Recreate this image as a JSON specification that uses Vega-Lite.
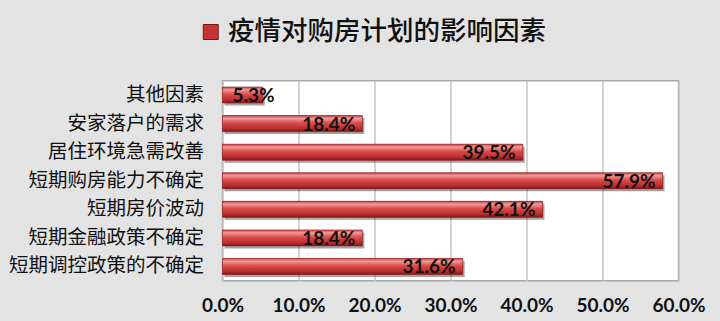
{
  "$schema": "https://vega.github.io/schema/vega-lite/v6.json",
  "width": 456,
  "height": 200,
  "autosize": {"type": "none"},
  "padding": {"left": 222.5, "top": 80.75, "right": 41.5, "bottom": 40.25},
  "background": "#e3e3e3",
  "data": {
    "values": [
      {"factor": "其他因素", "share": 0.053, "series": "疫情对购房计划的影响因素"},
      {"factor": "安家落户的需求", "share": 0.184, "series": "疫情对购房计划的影响因素"},
      {"factor": "居住环境急需改善", "share": 0.395, "series": "疫情对购房计划的影响因素"},
      {"factor": "短期购房能力不确定", "share": 0.579, "series": "疫情对购房计划的影响因素"},
      {"factor": "短期房价波动", "share": 0.421, "series": "疫情对购房计划的影响因素"},
      {"factor": "短期金融政策不确定", "share": 0.184, "series": "疫情对购房计划的影响因素"},
      {"factor": "短期调控政策的不确定", "share": 0.316, "series": "疫情对购房计划的影响因素"}
    ]
  },
  "encoding": {
    "y": {
      "field": "factor",
      "type": "nominal",
      "sort": null,
      "scale": {"paddingInner": 0.44, "paddingOuter": 0.22},
      "axis": {
        "title": null,
        "domain": false,
        "ticks": false,
        "labelPadding": 19,
        "labelLimit": 400,
        "labelFont": "Noto Sans CJK SC",
        "labelFontSize": 19.5,
        "labelColor": "#111111"
      }
    },
    "x": {
      "field": "share",
      "type": "quantitative",
      "scale": {"domain": [0, 0.6], "nice": false},
      "axis": {
        "title": null,
        "format": ".1%",
        "values": [0, 0.1, 0.2, 0.3, 0.4, 0.5, 0.6],
        "domain": false,
        "ticks": false,
        "grid": true,
        "gridColor": "#c4c4c4",
        "gridWidth": 1.5,
        "labelFlush": false,
        "labelOverlap": false,
        "labelBound": false,
        "labelPadding": 16,
        "labelFont": "Lato",
        "labelFontWeight": "bold",
        "labelFontSize": 19,
        "labelColor": "#111111"
      }
    }
  },
  "layer": [
    {
      "mark": {"type": "bar", "color": "#333333", "opacity": 0.45, "xOffset": 2, "yOffset": 2.5, "cornerRadius": 0}
    },
    {
      "mark": {"type": "bar"},
      "encoding": {
        "color": {
          "field": "series",
          "type": "nominal",
          "scale": {"range": ["#c43535"]},
          "legend": {
            "title": null,
            "orient": "none",
            "legendX": -25,
            "legendY": -62,
            "symbolType": "square",
            "symbolSize": 225,
            "symbolStrokeColor": "#7a1515",
            "symbolStrokeWidth": 1,
            "labelFont": "Noto Sans CJK SC",
            "labelFontSize": 26.5,
            "labelFontWeight": 500,
            "labelColor": "#111111",
            "labelOffset": 4,
            "labelLimit": 500
          }
        }
      }
    },
    {
      "mark": {
        "type": "bar",
        "stroke": "#8a1c1c",
        "strokeWidth": 0.6,
        "color": {
          "gradient": "linear",
          "x1": 0, "y1": 0, "x2": 0, "y2": 1,
          "stops": [
            {"offset": 0, "color": "#c24848"},
            {"offset": 0.18, "color": "#f09a9a"},
            {"offset": 0.45, "color": "#dc4c4c"},
            {"offset": 0.8, "color": "#b82e2e"},
            {"offset": 1, "color": "#7e1818"}
          ]
        }
      }
    },
    {
      "transform": [{"filter": "datum.share >= 0.1"}],
      "mark": {"type": "text", "align": "right", "dx": -7, "dy": 1, "font": "Lato", "fontWeight": "bold", "fontSize": 19, "color": "#111111"},
      "encoding": {"text": {"field": "share", "type": "quantitative", "format": ".1%"}}
    },
    {
      "transform": [{"filter": "datum.share < 0.1"}],
      "mark": {"type": "text", "align": "left", "dx": 10, "dy": 1, "font": "Lato", "fontWeight": "bold", "fontSize": 19, "color": "#111111"},
      "encoding": {
        "x": {"datum": 0, "type": "quantitative"},
        "text": {"field": "share", "type": "quantitative", "format": ".1%"}
      }
    }
  ],
  "config": {
    "view": {"fill": "#ffffff", "stroke": "#a8a8a8", "strokeWidth": 1.5}
  }
}
